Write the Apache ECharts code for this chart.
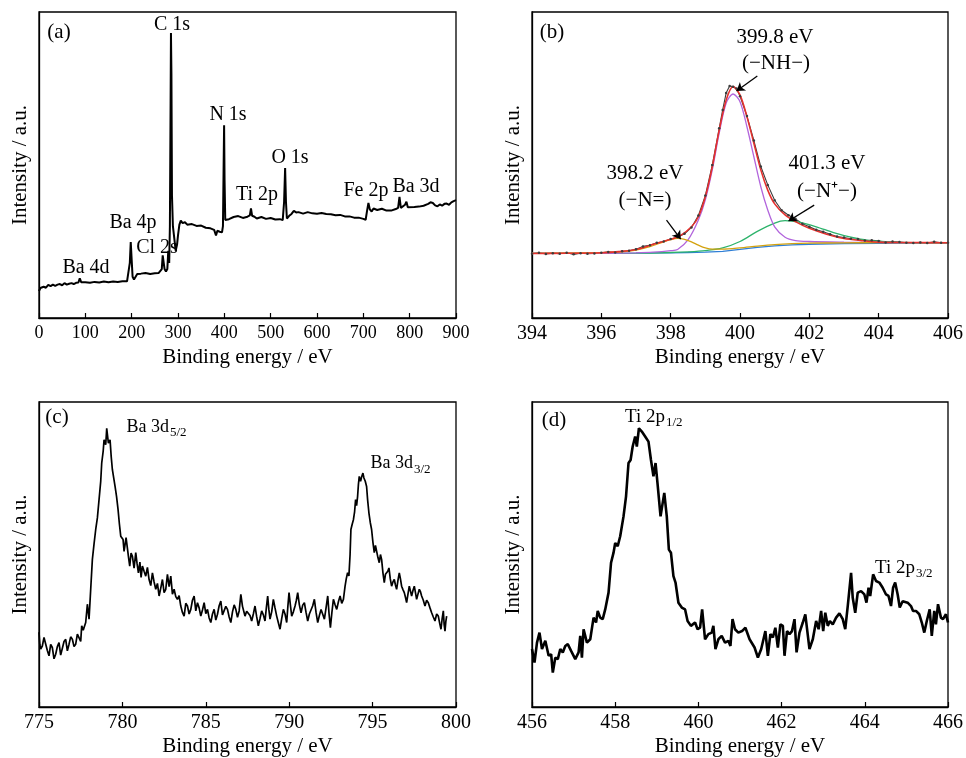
<!DOCTYPE html>
<html>
<head>
<meta charset="utf-8">
<script src="https://cdn.jsdelivr.net/npm/echarts@6/dist/echarts.min.js"></script>
<style>
  html, body { margin: 0; padding: 0; background: #fff; }
  #chart { width: 966px; height: 758px; }
</style>
</head>
<body>
<div id="chart"></div>
<script>
// (a) survey spectrum, [binding energy, intensity a.u.]
const surveyData = [[0,8.8],[3,9.8],[6,9.3],[10,10.2],[15,9.9],[20,10.8],[25,10.4],[30,10.9],[35,10.5],[40,10.9],[45,11.1],[50,10.7],[55,11.4],[60,10.9],[65,11.2],[70,11.4],[75,11.1],[80,11.5],[85,11.6],[88,13.0],[91,11.7],[95,11.4],[100,11.7],[110,11.5],[120,11.8],[130,11.6],[140,11.9],[150,11.7],[160,11.9],[170,11.8],[180,12.0],[190,12.0],[194,12.3],[196,18],[198,24.8],[200,19],[202,13.5],[205,12.6],[208,12.8],[212,14.4],[216,14.8],[220,14.5],[230,14.7],[240,14.4],[250,14.6],[258,14.7],[262,15.2],[265,16],[267,20.5],[269,21],[271,16],[274,15.2],[277,16],[279,22],[281,18],[282.5,30],[284,70],[284.8,93.1],[285.8,80],[287,40],[289,30],[292,26],[295,22],[298,24],[300,27],[303,30.5],[306,31.8],[310,31],[315,31.3],[320,30.5],[330,30.7],[340,30.1],[350,30.2],[360,29.5],[370,29.3],[378,28.8],[382,27],[385,28.5],[390,28.2],[395,28],[397,30],[398.5,50],[399.5,63],[400.5,45],[402,32],[405,31.5],[410,32.3],[420,33],[430,33.3],[440,32.7],[450,33.1],[455,33.5],[457.5,35.8],[460,33.4],[465,33.1],[470,32.5],[480,33.0],[490,32.4],[500,32.7],[510,32.2],[520,32.3],[526,32],[529,38],[531.2,49],[533,38],[535,32.5],[540,33.4],[545,34],[550,35],[555,34.5],[560,34.6],[570,34.1],[580,34.6],[590,34.2],[600,34.1],[610,34.3],[620,34.0],[630,33.9],[640,33.6],[650,33.7],[660,33.2],[670,33.2],[680,32.8],[690,32.8],[700,32.4],[705,32.1],[708,35],[711,37.6],[714,35.5],[718,34.8],[722,35.8],[730,35.3],[740,35.7],[750,35.1],[760,35.1],[770,35.6],[775,36],[778,39.6],[781,36.0],[785,35.8],[790,37],[793,38],[796,36.2],[800,35.8],[810,36.3],[820,36.4],[830,36.7],[840,37.3],[845,37.8],[850,37.6],[855,36.8],[860,36.5],[865,37.1],[870,36.7],[875,37.3],[880,37.4],[885,37.0],[890,37.8],[895,38.2],[900,38.5]];

// (b) N 1s high resolution and fit
const n1sRaw = [[394,21.0],[394.2,21.3],[394.4,20.9],[394.6,21.2],[394.8,21.0],[395,21.3],[395.2,20.8],[395.4,21.2],[395.6,21.0],[395.8,21.1],[396,21.3],[396.2,21.6],[396.4,21.4],[396.6,21.8],[396.8,22.0],[397,22.5],[397.2,23.4],[397.4,23.8],[397.6,24.6],[397.8,25.0],[398,25.8],[398.2,26.4],[398.4,27.5],[398.6,29.6],[398.8,33.5],[399,40],[399.2,50],[399.4,62],[399.5,68],[399.6,73.5],[399.7,75.8],[399.8,75.6],[399.9,75.0],[400,72.5],[400.2,66],[400.4,58],[400.6,49.5],[400.8,43.5],[401,38.5],[401.2,35.2],[401.4,33.6],[401.6,32.4],[401.8,30.8],[402,29.8],[402.2,28.8],[402.4,28.2],[402.6,27.4],[402.8,26.6],[403,26.3],[403.2,25.9],[403.4,25.8],[403.6,25.3],[403.8,25.4],[404,25.2],[404.2,24.7],[404.4,25.0],[404.6,24.8],[404.8,24.6],[405,24.5],[405.2,24.7],[405.4,24.5],[405.6,24.9],[405.8,24.6],[406,24.6]];
const n1sBaseline = [[394,21.1],[396,21.15],[397,21.2],[398,21.3],[398.5,21.4],[399,21.55],[399.5,21.8],[400,22.4],[400.5,23.1],[401,23.6],[401.5,23.9],[402,24.1],[403,24.3],[404,24.4],[405,24.5],[406,24.55]];
const n1sPeakN = [[394,21.15],[395,21.2],[396,21.35],[396.5,21.6],[397,22.2],[397.4,23.3],[397.8,24.9],[398,25.6],[398.2,26.0],[398.4,25.7],[398.6,24.9],[398.8,23.8],[399,22.9],[399.2,22.5],[399.5,22.5],[400,22.9],[400.5,23.5],[401,24.0],[401.5,24.3],[402,24.45],[403,24.55],[404,24.6],[405,24.6],[406,24.6]];
const n1sPeakNH = [[394,21.1],[396,21.15],[397,21.3],[397.5,21.5],[398,22.0],[398.2,22.4],[398.5,25.5],[398.8,32],[399,38.6],[399.2,48.4],[399.4,60.4],[399.6,70.2],[399.8,73.2],[400,70.7],[400.2,62.5],[400.4,52.7],[400.6,42.9],[400.8,35.3],[401,29.8],[401.3,26.4],[401.6,25.3],[402,25],[403,24.8],[404,24.7],[406,24.6]];
const n1sPeakNplus = [[394,21.1],[397,21.2],[398,21.4],[398.5,21.6],[399,22.0],[399.5,22.9],[400,25],[400.5,28.3],[401,31],[401.3,31.8],[401.7,31.3],[402.2,29.8],[402.7,27.9],[403.2,26.4],[403.7,25.4],[404.5,24.8],[405,24.65],[406,24.55]];
const n1sEnvelope = [[394,21.1],[395,21.15],[396,21.3],[396.5,21.7],[397,22.4],[397.5,24.1],[398,25.7],[398.3,27.1],[398.6,29.8],[398.8,33.1],[399,39.6],[399.2,49.4],[399.4,61.4],[399.6,71.2],[399.8,75.6],[400,72.9],[400.2,65.8],[400.4,57.1],[400.6,48.4],[400.8,41.8],[401,37.3],[401.3,33.7],[401.6,31.5],[402,29.3],[402.5,27.4],[403,26],[403.5,25.3],[404,24.8],[405,24.65],[406,24.6]];

// (c) Ba 3d
const ba3dData = [[775.0,24.5],[775.05,20.5],[775.1,19.0],[775.2,20],[775.3,22.8],[775.4,22.2],[775.5,18.5],[775.6,16.8],[775.7,20.5],[775.8,19.5],[775.9,15.8],[776.0,17.3],[776.1,19.8],[776.2,21.1],[776.3,17.0],[776.4,16.8],[776.5,21.5],[776.6,22.2],[776.7,18.4],[776.8,20.6],[776.9,23.0],[777.0,22.2],[777.1,19.8],[777.2,20.6],[777.3,23.9],[777.4,23.3],[777.5,21.5],[777.56,26.6],[777.65,25.2],[777.8,27.7],[777.9,33.7],[778.0,28.8],[778.1,38.6],[778.2,48.4],[778.3,53.5],[778.4,58.2],[778.5,62],[778.6,68],[778.7,74],[778.76,80],[778.85,84],[778.9,87.6],[779.0,86],[779.06,91.4],[779.16,86.5],[779.26,87.6],[779.33,82],[779.4,77.8],[779.56,72.3],[779.65,69],[779.74,64.7],[779.82,60],[779.9,56],[780.04,54.9],[780.1,51],[780.16,51.6],[780.22,55.5],[780.3,54.9],[780.37,49],[780.44,46.2],[780.52,50.5],[780.6,49.4],[780.7,45.5],[780.8,50.6],[780.88,47],[780.96,44],[781.05,47.5],[781.12,42.5],[781.2,46.2],[781.3,44.5],[781.4,42.9],[781.5,45.8],[781.6,41.8],[781.7,39.8],[781.8,44],[781.9,41],[782.0,38.6],[782.1,40.5],[782.2,36.4],[782.3,39],[782.4,41.8],[782.5,37.5],[782.6,38.6],[782.7,43.5],[782.8,39.5],[782.9,42.9],[783.0,37],[783.1,38.6],[783.2,36.2],[783.3,35.3],[783.4,36.5],[783.5,33.1],[783.6,31],[783.7,29.8],[783.8,34],[783.9,33.1],[784.0,30.5],[784.1,32],[784.2,35],[784.3,36.4],[784.4,31.5],[784.5,34.2],[784.6,32.5],[784.7,29.8],[784.8,31.8],[784.9,34.2],[785.0,30.6],[785.1,32],[785.2,29.2],[785.3,27.7],[785.4,30.5],[785.5,32],[785.6,28.5],[785.7,30.4],[785.8,33.2],[785.9,34.7],[786.0,30.2],[786.1,29.8],[786.2,33],[786.3,32],[786.4,29.5],[786.5,27.7],[786.6,31.2],[786.7,33.5],[786.8,32],[786.9,29.4],[787.0,31.5],[787.1,36.9],[787.2,33],[787.3,30.9],[787.35,29.8],[787.45,31.4],[787.55,32],[787.65,30],[787.75,28.2],[787.85,30.5],[787.95,33.1],[788.05,29.6],[788.15,26.6],[788.25,29],[788.35,31.5],[788.45,30.2],[788.55,28.2],[788.63,32.5],[788.71,36.4],[788.78,32],[788.85,28.8],[788.95,31.2],[789.05,35.3],[789.15,32.5],[789.25,29.8],[789.35,27.6],[789.45,25.5],[789.55,29],[789.65,32],[789.75,30.5],[789.85,27.7],[789.92,33],[789.99,37.5],[790.07,33.5],[790.15,29.8],[790.25,31.2],[790.35,33.1],[790.43,35],[790.51,37.5],[790.61,33.5],[790.71,30.9],[790.81,33.4],[790.91,34.2],[791.01,31],[791.11,28.2],[791.21,30.5],[791.31,30.9],[791.41,33.2],[791.51,35.3],[791.61,31],[791.71,27.7],[791.81,30],[791.91,32],[792.01,30.4],[792.11,28.8],[792.21,32.5],[792.31,36.4],[792.39,30.5],[792.47,26],[792.56,31],[792.65,35.3],[792.75,33.5],[792.85,32],[792.95,34.5],[793.05,36.4],[793.15,34],[793.25,35.3],[793.35,39.6],[793.42,42],[793.5,44],[793.58,43],[793.65,50],[793.7,58.2],[793.78,60],[793.85,61.4],[793.92,64],[793.98,68],[794.04,66],[794.1,69],[794.15,73],[794.2,75.6],[794.28,74],[794.35,75.6],[794.42,76.7],[794.48,75.1],[794.56,74],[794.64,72.3],[794.7,68],[794.78,63.6],[794.86,60.5],[794.94,58.2],[795.02,54],[795.1,50.6],[795.17,53],[795.24,52.7],[795.32,49],[795.4,47.3],[795.47,50],[795.54,48.4],[795.62,44],[795.7,40.8],[795.77,43.5],[795.84,42.9],[795.91,44.5],[795.98,45.6],[796.06,42],[796.14,39.6],[796.22,41],[796.3,41.8],[796.37,40],[796.44,38.6],[796.52,41.5],[796.6,44],[796.67,42],[796.74,39.6],[796.82,38.5],[796.9,37.5],[796.97,36],[797.04,34.2],[797.12,37],[797.2,39.6],[797.27,38],[797.34,36.4],[797.42,38.2],[797.5,39.6],[797.57,37.5],[797.64,35.3],[797.72,37],[797.8,38.6],[797.87,37.8],[797.94,36.4],[798.04,35],[798.14,33.1],[798.24,35],[798.34,34.2],[798.44,32.5],[798.54,30.9],[798.64,29.5],[798.74,28.2],[798.84,30.5],[798.94,29.8],[799.02,27.5],[799.1,25.5],[799.17,29],[799.24,31.5],[799.29,27],[799.34,24.9],[799.39,28],[799.44,29.8]];

// (d) Ti 2p
const ti2pData = [[456.0,19],[456.06,14.6],[456.12,21.1],[456.18,24.4],[456.24,19],[456.32,21.7],[456.4,16.8],[456.46,17.3],[456.5,11.3],[456.56,16.2],[456.62,15.7],[456.68,19],[456.74,17.9],[456.8,20],[456.86,20.6],[456.94,18.4],[457.04,15.7],[457.12,17.9],[457.16,23.3],[457.2,16.2],[457.24,25.5],[457.32,21.1],[457.4,22.2],[457.48,29.3],[457.54,27.7],[457.58,31.5],[457.64,29.3],[457.7,28.8],[457.76,32],[457.84,37.5],[457.9,47.3],[457.96,50.6],[458.0,53.8],[458.06,52.7],[458.12,56],[458.2,62.5],[458.26,69],[458.32,80],[458.37,81],[458.42,85.4],[458.48,88.7],[458.52,85.4],[458.57,91.4],[458.64,90.3],[458.72,88.7],[458.8,87],[458.86,81],[458.92,75.6],[458.97,80],[459.02,72.9],[459.09,62.5],[459.13,62.5],[459.18,70.2],[459.24,62.5],[459.29,51.6],[459.34,50.6],[459.4,42.9],[459.45,40.8],[459.52,34.2],[459.6,32.6],[459.68,32],[459.74,28.2],[459.82,26.6],[459.92,27.7],[459.98,25.5],[460.04,26],[460.09,32],[460.16,22.2],[460.24,23.9],[460.32,24.4],[460.36,26.6],[460.41,19],[460.48,22.2],[460.56,23.3],[460.64,21.1],[460.72,21.7],[460.77,20],[460.82,28.8],[460.88,25.5],[460.96,24.4],[461.05,24.9],[461.13,26],[461.23,22.2],[461.35,19.5],[461.43,16.2],[461.51,19],[461.61,24.9],[461.67,16.8],[461.73,23.9],[461.79,22.8],[461.85,26],[461.91,19.5],[461.97,27.1],[462.03,26.6],[462.07,16.8],[462.13,24.9],[462.19,23.9],[462.25,24.9],[462.31,28.8],[462.36,17.9],[462.43,24.4],[462.51,27.7],[462.57,30.4],[462.67,19],[462.75,22.2],[462.83,28.2],[462.89,25.5],[462.95,31.5],[463.0,24.9],[463.05,30.9],[463.11,26.6],[463.16,28.2],[463.23,27.1],[463.31,29.3],[463.39,30.7],[463.47,28.8],[463.53,25.5],[463.59,33.1],[463.67,44],[463.71,35.8],[463.77,30.9],[463.83,37.5],[463.91,38],[463.99,36.9],[464.04,34.2],[464.09,39.1],[464.13,36.4],[464.2,43.5],[464.27,41.3],[464.35,40.8],[464.43,39.1],[464.51,36.9],[464.57,36.4],[464.63,33.1],[464.68,39.1],[464.73,40.8],[464.79,36.9],[464.84,32.6],[464.91,34.7],[465.03,34.2],[465.11,33.1],[465.16,31.5],[465.23,31.5],[465.31,30.4],[465.37,27.7],[465.43,24.4],[465.49,28.2],[465.56,32],[465.61,23.3],[465.67,31.5],[465.71,27.1],[465.76,33.7],[465.83,29.3],[465.88,28.8],[465.95,30.4],[466.0,27.7]];

const FONT = '"Liberation Serif", "Times New Roman", serif'

const chart = echarts.init(document.getElementById('chart'))

const grids = [
  { left: 39, top: 12, width: 417, height: 306 },
  { left: 532, top: 12, width: 417, height: 306 },
  { left: 39, top: 402, width: 417, height: 306 },
  { left: 532, top: 402, width: 417, height: 306 },
].map(g => Object.assign(g, { show: true, borderColor: '#000', borderWidth: 1.3, backgroundColor: 'transparent' }))

function makeX(idx, min, max, interval, labelSize) {
  return {
    type: 'value', gridIndex: idx, min: min, max: max, interval: interval,
    name: 'Binding energy / eV', nameLocation: 'middle', nameGap: 29,
    nameTextStyle: { fontFamily: FONT, fontSize: 21, color: '#000' },
    axisLine: { show: true, onZero: false, lineStyle: { color: '#000', width: 1.3 } },
    axisTick: { show: true, inside: true, length: 5, lineStyle: { color: '#000', width: 1.2 } },
    axisLabel: { color: '#000', fontFamily: FONT, fontSize: labelSize, margin: 6, showMinLabel: true, showMaxLabel: true },
    splitLine: { show: false },
  }
}
function makeY(idx) {
  return {
    type: 'value', gridIndex: idx, min: 0, max: 100,
    name: 'Intensity / a.u.', nameLocation: 'middle', nameGap: 8,
    nameTextStyle: { fontFamily: FONT, fontSize: 21, color: '#000' },
    axisLine: { show: true, lineStyle: { color: '#000', width: 1.3 } },
    axisTick: { show: false }, axisLabel: { show: false }, splitLine: { show: false },
  }
}

function line(idx, data, color, width, extra) {
  return Object.assign({
    type: 'line', xAxisIndex: idx, yAxisIndex: idx, data: data,
    showSymbol: false, silent: true,
    lineStyle: { color: color, width: width },
    itemStyle: { color: color },
  }, extra || {})
}

function txt(x, y, text, size, align) {
  return {
    type: 'text', x: x, y: y, silent: true,
    style: { text: text, font: size + 'px ' + FONT, fill: '#000',
      align: align || 'center', verticalAlign: 'middle',
      textAlign: align || 'center', textVerticalAlign: 'middle' },
  }
}

const arrows = {
  silent: true, symbol: ['none', 'arrow'], symbolSize: 8, animation: false,
  label: { show: false },
  lineStyle: { color: '#000', width: 1.3, type: 'solid' },
  data: [
    [{ coord: [400.5, 79.1] }, { coord: [399.9, 74.2] }],
    [{ coord: [397.88, 32] }, { coord: [398.29, 25.8] }],
    [{ coord: [402.14, 36.9] }, { coord: [401.4, 31.7] }],
  ],
}

chart.setOption({
  animation: false,
  backgroundColor: '#fff',
  grid: grids,
  xAxis: [makeX(0, 0, 900, 100, 18), makeX(1, 394, 406, 2, 20), makeX(2, 775, 800, 5, 20), makeX(3, 456, 466, 2, 20)],
  yAxis: [makeY(0), makeY(1), makeY(2), makeY(3)],
  series: [
    line(0, surveyData, '#000', 2),
    line(1, n1sRaw, '#3c3c3c', 1.1, { showSymbol: true, symbol: 'circle', symbolSize: 2.5 }),
    line(1, n1sBaseline, '#2f7fd6', 1.3),
    line(1, n1sPeakNplus, '#2db36b', 1.3, { smooth: 0.3 }),
    line(1, n1sPeakNH, '#b265dc', 1.3, { smooth: 0.3 }),
    line(1, n1sPeakN, '#d4a20f', 1.3, { smooth: 0.3 }),
    line(1, n1sEnvelope, '#e5302d', 1.6, { smooth: 0.3, markLine: arrows }),
    line(2, ba3dData, '#000', 1.7),
    line(3, ti2pData, '#000', 2.6),
  ],
  graphic: [
    txt(59, 32, '(a)', 21),
    txt(172, 25, 'C 1s', 20),
    txt(228, 115, 'N 1s', 20),
    txt(290, 158, 'O 1s', 20),
    txt(257, 195, 'Ti 2p', 20),
    txt(366, 191, 'Fe 2p', 20),
    txt(416, 187, 'Ba 3d', 20),
    txt(133, 223, 'Ba 4p', 20),
    txt(157, 248, 'Cl 2s', 20),
    txt(86, 268, 'Ba 4d', 20),

    txt(552, 32, '(b)', 21),
    txt(775, 37, '399.8 eV', 21),
    txt(776, 63, '(\u2212NH\u2212)', 21),
    txt(645, 173, '398.2 eV', 21),
    txt(645, 200, '(\u2212N=)', 21),
    txt(827, 163, '401.3 eV', 21),
    txt(827, 191, '(\u2212N\u207A\u2212)', 21),

    txt(57, 417, '(c)', 21),
    txt(169, 427, 'Ba 3d', 18, 'right'),
    txt(170, 433, '5/2', 13, 'left'),
    txt(413, 463, 'Ba 3d', 18, 'right'),
    txt(414, 470, '3/2', 13, 'left'),

    txt(554, 420, '(d)', 21),
    txt(665, 417, 'Ti 2p', 19, 'right'),
    txt(666, 423, '1/2', 13, 'left'),
    txt(915, 568, 'Ti 2p', 19, 'right'),
    txt(916, 574, '3/2', 13, 'left'),
  ],
})
</script>
</body>
</html>
